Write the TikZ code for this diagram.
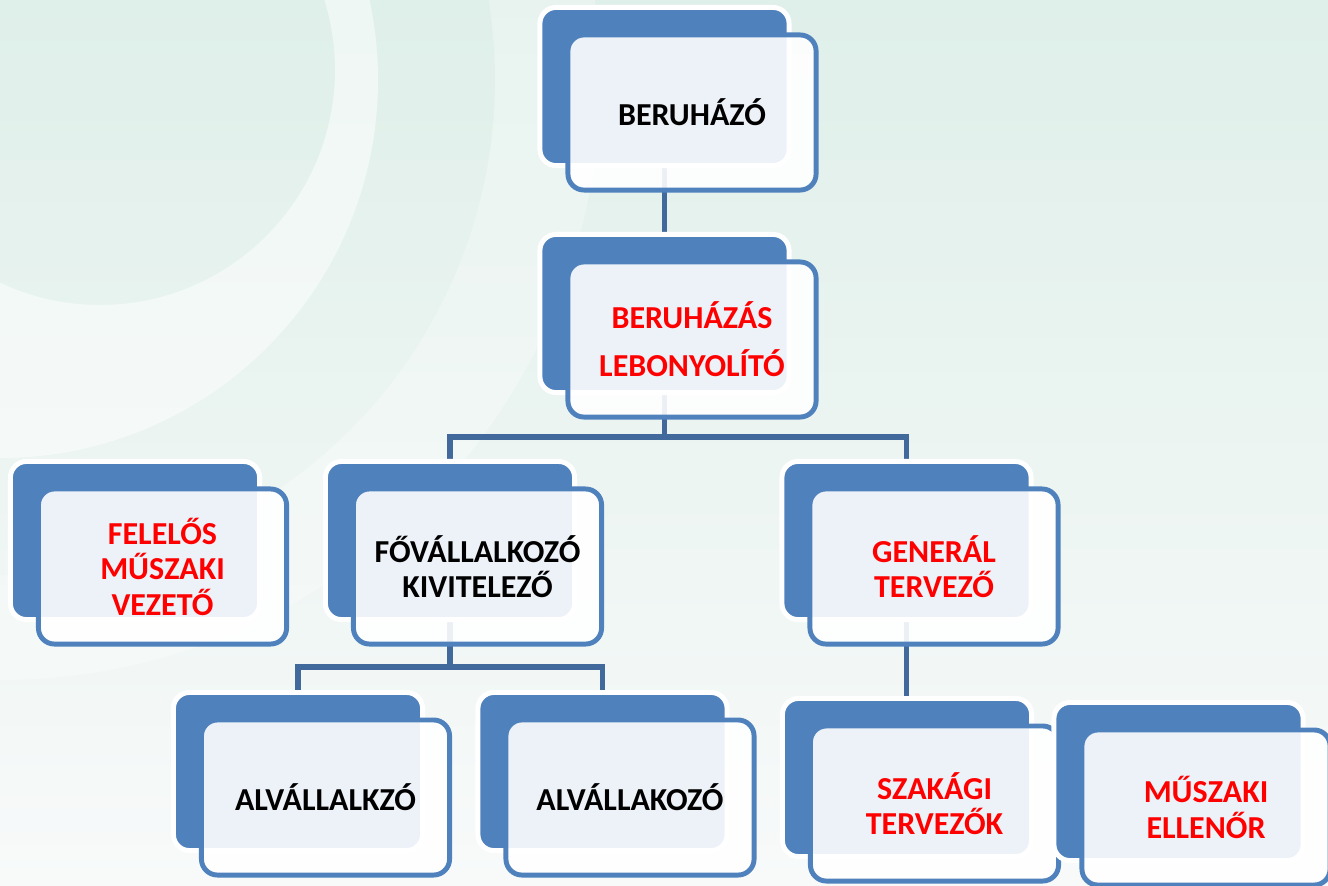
\documentclass[tikz,border=0pt]{standalone}
\usepackage{fontspec}
\setmainfont{Carlito}
\usepackage{tikz}
\usetikzlibrary{positioning}
\definecolor{boxblue}{RGB}{79,129,189}
\definecolor{linkblue}{RGB}{65,105,155}
\definecolor{bgtop}{RGB}{223,239,233}
\definecolor{bgbot}{RGB}{248,250,250}
\tikzset{
  backbox/.style={draw=white, line width=1.4pt, fill=boxblue, rounded corners=0.16cm,
    minimum width=2.49cm, minimum height=1.58cm, inner sep=0pt},
  frontbox/.style={draw=boxblue, line width=1.4pt, fill=white, fill opacity=0.9, text opacity=1,
    rounded corners=0.16cm, minimum width=2.48cm, minimum height=1.55cm, inner sep=0pt,
    align=center, font=\fontsize{9.1}{10.1}\selectfont\bfseries},
  link/.style={draw=linkblue, line width=1.6pt}
}

\begin{document}
\begin{tikzpicture}[x=0.01cm, y=-0.01cm]
  \useasboundingbox (0,0) rectangle (1328,885);
  % background
  \begin{scope}
    \clip (0,0) rectangle (1328,885);
    \shade[top color=bgtop, bottom color=bgbot] (0,0) rectangle (1328,885);
    \fill[white, opacity=.5, even odd rule] (100,70) circle[radius=235] (0,80) circle[radius=378];
    \fill[white, opacity=.3, even odd rule] (0,80) circle[radius=495] (0,80) circle[radius=600];
  \end{scope}

  % connectors (drawn before the boxes)
  \coordinate (beru-b) at (664.5,86.5);
  \coordinate (lebony-b) at (664.5,313.5);
  \coordinate (fovall-b) at (450,540.5);
  \coordinate (general-b) at (906.5,540.5);
  \coordinate (alv1-b) at (298,771.5);
  \coordinate (alv2-b) at (602.5,771.5);
  \coordinate (szak-b) at (907,777.5);

  \draw[link] (beru-b) -- (lebony-b);
  \draw[link] (lebony-b) -- ++(0,123.5) coordinate (j1) -| (fovall-b);
  \draw[link] (j1) -| (general-b);
  \draw[link] (fovall-b) -- ++(0,126.5) coordinate (j2) -| (alv1-b);
  \draw[link] (j2) -| (alv2-b);
  \draw[link] (general-b) -- (general-b |- szak-b);

  % boxes: back box, then the front box with the text
  \foreach \n/\x/\y/\c/\t in {
      beru/664.5/86.5/black/{BERUHÁZÓ},
      lebony/664.5/313.5/red/{BERUHÁZÁS\\[3.5pt]LEBONYOLÍTÓ},
      felelos/135/540.5/red/{FELELŐS\\MŰSZAKI\\VEZETŐ},
      fovall/450/540.5/black/{FŐVÁLLALKOZÓ\\KIVITELEZŐ},
      general/906.5/540.5/red/{GENERÁL\\TERVEZŐ},
      alv1/298/771.5/black/{ALVÁLLALKZÓ},
      alv2/602.5/771.5/black/{ALVÁLLAKOZÓ},
      szak/907/777.5/red/{SZAKÁGI\\TERVEZŐK},
      muszaki/1178.5/781.5/red/{MŰSZAKI\\ELLENŐR}}
  {
      \node[backbox] (\n-back) at (\x,\y) {};
      \node[frontbox, text=\c] (\n) at ([shift={(27.5,26)}]\n-back.center) {\t};
  }
\end{tikzpicture}
\end{document}
